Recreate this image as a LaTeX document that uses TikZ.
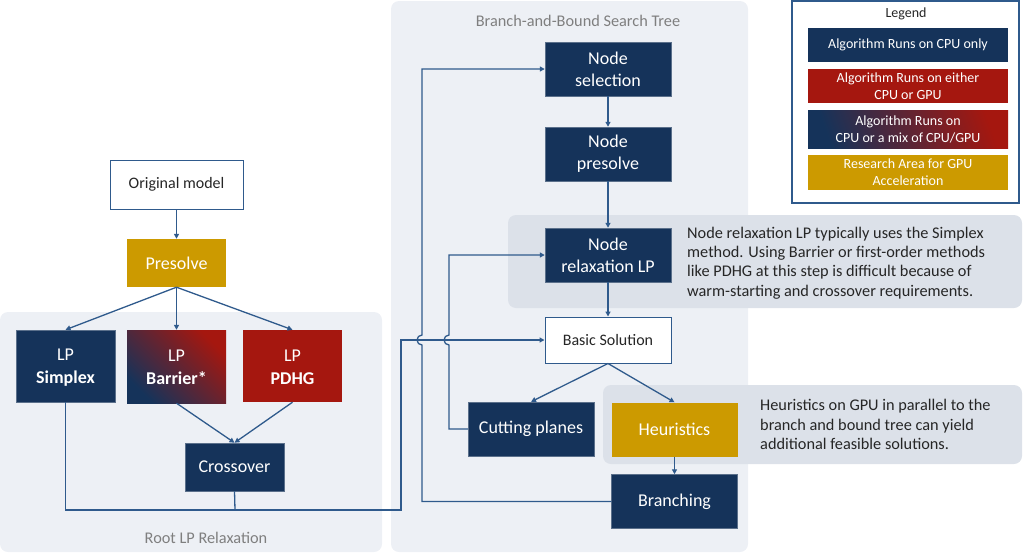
\documentclass[tikz,border=0pt]{standalone}
\usepackage{fontspec}
\setmainfont{Carlito}
\usetikzlibrary{arrows.meta}
\definecolor{navy}{HTML}{15335A}
\definecolor{redb}{HTML}{A5170F}
\definecolor{gold}{HTML}{CC9A00}
\definecolor{panel}{HTML}{EDF0F5}
\definecolor{callout}{HTML}{DCE1E9}
\definecolor{conn}{HTML}{2F5A8C}
\definecolor{labelgray}{HTML}{7F7F7F}
\definecolor{txt}{HTML}{262626}
\begin{document}
\begin{tikzpicture}[x=1pt,y=-1pt,
  panelbox/.style={fill=panel, rounded corners=8pt},
  calloutbox/.style={fill=callout, rounded corners=8pt},
  box/.style={inner sep=0pt, align=center, text=white, font=\fontsize{18}{22}\selectfont},
  navybox/.style={box, fill=navy, draw=navy!70!white, line width=0.5pt},
  redbox/.style={box, fill=redb},
  goldbox/.style={box, fill=gold},
  whitebox/.style={box, fill=white, draw=conn, line width=1pt, text=txt, font=\fontsize{16}{20}\selectfont},
  mixbox/.style={box, left color=navy, right color=redb, shading angle=135},
  legitem/.style={inner sep=0pt, align=center, text=white, minimum width=200pt, font=\fontsize{14}{17}\selectfont},
  panellabel/.style={text=labelgray, font=\fontsize{16.3}{19}\selectfont},
  note/.style={anchor=west, align=left, text=txt, inner sep=0pt, font=\fontsize{16.3}{19.4}\selectfont},
  line/.style={draw=conn, line width=1.3pt},
  arr/.style={line, -{Triangle[length=5pt,width=5pt]}}
]
\useasboundingbox (0,0) rectangle (1024,557);
% panels
\fill[panelbox] (0,312) rectangle (382,552);
\fill[panelbox] (391,1) rectangle (748,552);
\fill[calloutbox] (508,215) rectangle (1022,308);
\fill[calloutbox] (603,385) rectangle (1022,464);
\node[panellabel] (rootlbl) at (206,538) {Root LP Relaxation};
\node[panellabel] (bblbl) at (578,21) {Branch-and-Bound Search Tree};
% nodes left
\node[whitebox, minimum width=133pt, minimum height=49pt] (orig) at (176.5,184.5) {Original model};
\node[goldbox, minimum width=99pt, minimum height=48pt] (presolve) at (176.5,263) {Presolve};
\node[navybox, minimum width=99pt, minimum height=72pt] (simplex) at (65.5,366) {\raisebox{0pt}[14pt][0pt]{LP}\\[1pt]\textbf{Simplex}};
\node[mixbox, minimum width=99pt, minimum height=73pt] (barrier) at (176.5,366.5) {\raisebox{0pt}[14pt][0pt]{LP}\\[1pt]\textbf{Barrier*}};
\node[redbox, minimum width=99pt, minimum height=72pt] (pdhg) at (292.5,366) {\raisebox{0pt}[14pt][0pt]{LP}\\[1pt]\textbf{PDHG}};
\node[navybox, minimum width=99pt, minimum height=48pt] (crossover) at (234.5,467) {Crossover};
% nodes middle
\node[navybox, minimum width=126pt, minimum height=54pt] (nodesel) at (608,69) {Node\\selection};
\node[navybox, minimum width=126pt, minimum height=54pt] (nodepre) at (608,154) {Node\\presolve};
\node[navybox, minimum width=126pt, minimum height=54pt] (noderel) at (608,255) {Node\\relaxation LP};
\node[whitebox, minimum width=126pt, minimum height=46pt] (basic) at (608,340) {Basic Solution};
\node[navybox, minimum width=126pt, minimum height=54pt] (cutting) at (531,429) {Cutting planes};
\node[goldbox, minimum width=126pt, minimum height=54pt] (heur) at (674.5,429.5) {Heuristics};
\node[navybox, minimum width=126pt, minimum height=54pt] (branch) at (674.5,501.5) {Branching};
% notes
\node[note] (note1) at (687,263) {Node relaxation LP typically uses the Simplex\\method. Using Barrier or first-order methods\\like PDHG at this step is difficult because of\\warm-starting and crossover requirements.};
\node[note] (note2) at (760,424.5) {Heuristics on GPU in parallel to the\\branch and bound tree can yield\\additional feasible solutions.};
% legend
\draw[draw=conn, line width=1.2pt, fill=white] (792,1) rectangle (1019,203);
\node[text=txt, font=\fontsize{14}{17}\selectfont] (legtitle) at (906,14) {Legend};
\node[legitem, fill=navy, minimum height=34pt] (leg1) at (908,45) {Algorithm Runs on CPU only};
\node[legitem, fill=redb, minimum height=34pt] (leg2) at (908,86) {Algorithm Runs on either\\CPU or GPU};
\node[legitem, left color=navy, right color=redb, shading angle=110, minimum height=38pt] (leg3) at (908,129) {Algorithm Runs on\\CPU or a mix of CPU/GPU};
\node[legitem, fill=gold, minimum height=35pt] (leg4) at (908,172.5) {Research Area for GPU\\Acceleration};
% connectors left
\draw[arr] (orig.south) -- (presolve.north);
\draw[arr] (presolve.south) -- (simplex.north);
\draw[arr] (presolve.south) -- (barrier.north);
\draw[arr] (presolve.south) -- (pdhg.north);
\draw[arr] (barrier.south) -- (crossover.north);
\draw[arr] (pdhg.south) -- (crossover.north);
\draw[line] (crossover.south) -- (235,510);
\draw[arr] (simplex.south) |- (401,510) -- (401,340) -- (basic.west);
% connectors middle
\draw[arr] (nodesel.south) -- (nodepre.north);
\draw[arr] (nodepre.south) -- (noderel.north);
\draw[arr] (noderel.south) -- (basic.north);
\draw[arr] (basic.south) -- (cutting.north);
\draw[arr] (basic.south) -- (heur.north);
\draw[arr] (heur.south) -- (branch.north);
\draw[arr] (branch.west) -| (422,345) arc[start angle=270, end angle=90, radius=5pt] |- (nodesel.west);
\draw[arr] (cutting.west) -| (449,345) arc[start angle=270, end angle=90, radius=5pt] |- (noderel.west);
\end{tikzpicture}
\end{document}
